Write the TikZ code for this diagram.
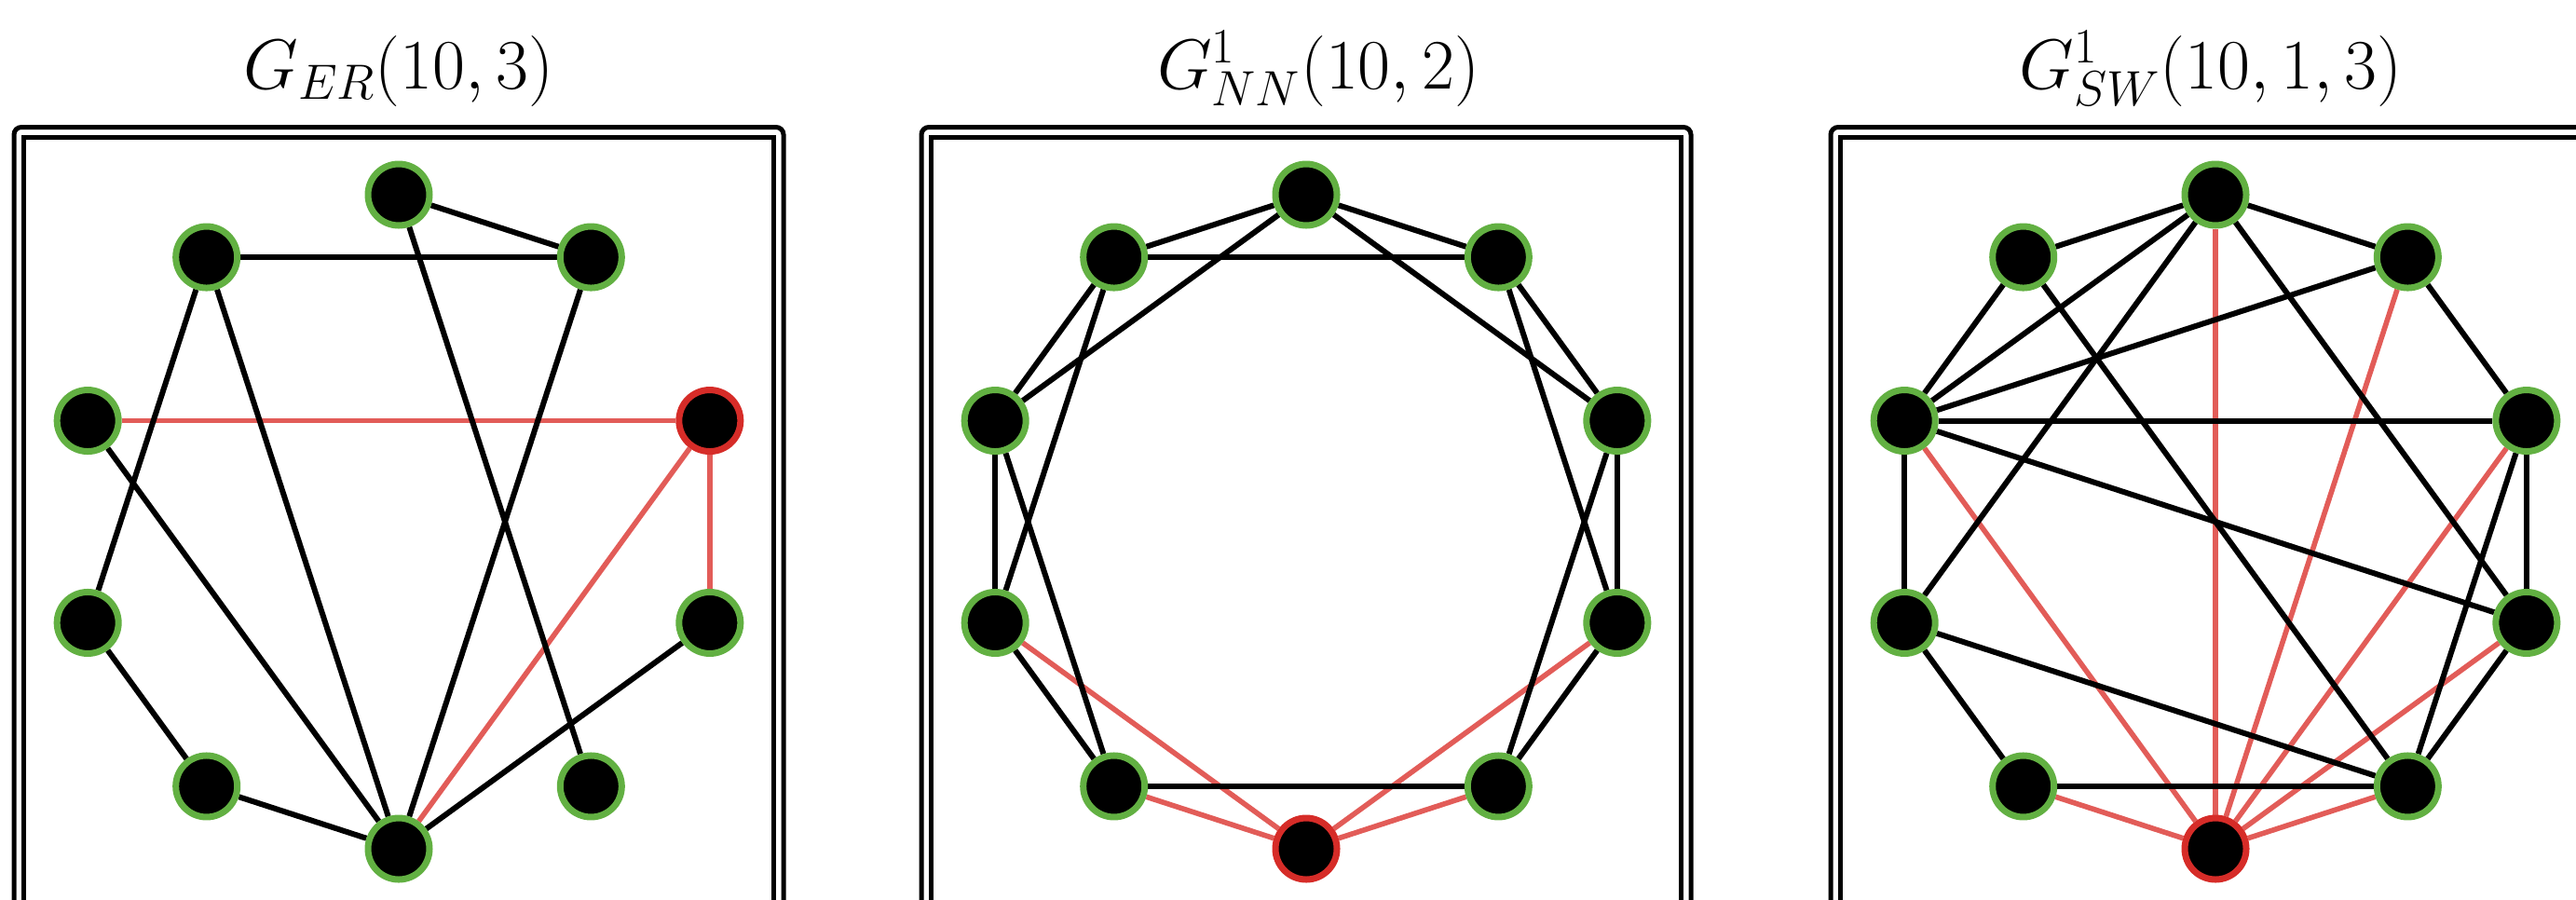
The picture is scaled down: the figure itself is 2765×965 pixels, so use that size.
\RequirePackage{fix-cm}
\documentclass[tikz,border=0pt]{standalone}
\pgfdeclarelayer{bg}
\pgfsetlayers{bg,main}
\definecolor{ngreen}{RGB}{98,176,66}
\definecolor{nred}{RGB}{214,44,40}
\definecolor{ered}{RGB}{226,92,88}
\tikzset{
 vtx/.style={circle, fill=black, draw=ngreen, line width=3.5pt, minimum size=33pt, inner sep=0pt},
 vred/.style={vtx, draw=nred},
 edgeb/.style={draw=black, line width=3pt},
 edger/.style={draw=ered, line width=2.8pt},
 frameout/.style={draw=black, line width=2.5pt, rounded corners=4pt},
 framein/.style={draw=black, line width=2.5pt},
 ttl/.style={anchor=base, inner sep=0pt, font=\fontsize{38}{45}\selectfont}
}
\begin{document}
\begin{tikzpicture}[x=0.5pt,y=-0.5pt]
\useasboundingbox (0,0) rectangle (2765,965);
\clip (0,0) rectangle (2765,965);
\foreach \cx/\p/\r in {428/a/2,1402/b/5,2378/c/5}{
  \draw[frameout] ({\cx-413},1100) -- ({\cx-413},136.5) -- ({\cx+413},136.5) -- ({\cx+413},1100);
  \draw[framein] ({\cx-402.5},1100) -- ({\cx-402.5},147.5) -- ({\cx+402.5},147.5) -- ({\cx+402.5},1100);
  \foreach \k in {0,...,9}{
    \ifnum\k=\r \def\vs{vred}\else\def\vs{vtx}\fi
    \node[\vs] (\p\k) at ({\cx+351*sin(36*\k)},{560-351*cos(36*\k)}) {};
  }
}
\node[ttl] (t1) at (428,95) {$G_{ER}(10,3)$};
\node[ttl] (t2) at (1415,95) {$G^1_{NN}(10,2)$};
\node[ttl] (t3) at (2373,95) {$G^1_{SW}(10,1,3)$};
\begin{pgfonlayer}{bg}
\foreach \u/\v in {8/2,2/5,2/3} \draw[edger] (a\u) -- (a\v);
\foreach \u/\v in {0/1,9/1,0/4,1/5,9/7,9/5,8/5,7/6,6/5,3/5} \draw[edgeb] (a\u) -- (a\v);
\foreach \u/\v in {5/7,5/3,5/6,5/4} \draw[edger] (b\u) -- (b\v);
\foreach \u/\v in {0/1,0/9,0/2,0/8,9/1,9/8,9/7,1/2,1/3,8/7,8/6,2/3,2/4,7/6,3/4,6/4} \draw[edgeb] (b\u) -- (b\v);
\foreach \u/\v in {5/6,5/4,5/0,5/1,5/2,5/3,5/8} \draw[edger] (c\u) -- (c\v);
\foreach \u/\v in {0/9,0/1,0/8,0/7,0/3,9/8,9/4,1/8,1/2,8/2,8/3,8/7,7/6,7/4,6/4,2/3,2/4,3/4} \draw[edgeb] (c\u) -- (c\v);
\end{pgfonlayer}
\end{tikzpicture}
\end{document}
